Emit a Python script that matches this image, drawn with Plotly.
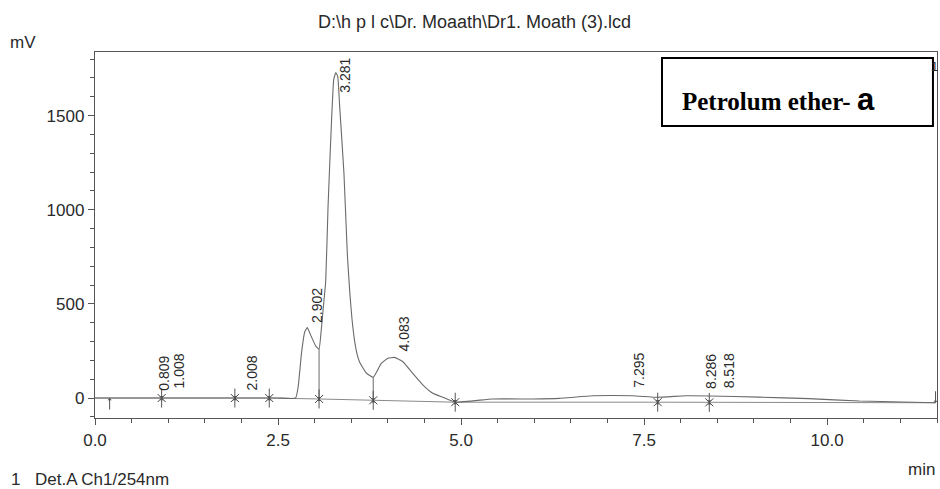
import plotly.graph_objects as go

# ---------------- data ----------------
time_min = [0.00, 0.50, 1.00, 1.50, 2.00, 2.50, 2.74, 2.775, 2.82, 2.865, 2.90, 2.955,
            3.015, 3.06, 3.09, 3.115, 3.151, 3.183, 3.229, 3.26, 3.288, 3.315, 3.342,
            3.40, 3.447, 3.48, 3.51, 3.547, 3.58, 3.615, 3.705, 3.80, 3.91, 4.00, 4.09, 4.205,
            4.34, 4.48, 4.615, 4.75, 4.92, 5.43, 5.98, 6.34, 6.80, 7.34, 7.685, 8.07,
            8.39, 9.07, 9.75, 10.44, 11.48]
signal_mV = [0, 0, 0, 0, 0, 0, 0, 60, 237, 352, 374, 326,
             276, 259, 361, 468, 620, 1017, 1460, 1690, 1729, 1708, 1548,
             1194, 760, 560, 420, 300, 232, 190, 133, 110, 184, 211, 216, 193,
             131, 69, 25, 4, -22, -5, -5, -2, 12, 12, 4, 12,
             11, 5, -3, -16, -25]

# integration baseline
base_t = [0.0, 2.38, 3.06, 3.80, 4.92, 7.685, 8.39, 11.48]
base_v = [0, 0, -5, -12, -22, -22, -23, -25]

# integration marks (X marks on baseline)
mark_t = [0.91, 1.91, 2.38, 3.06, 3.80, 4.92, 7.685, 8.39]
mark_v = [0, 0, 0, -5, -12, -22, -22, -23]

# drop lines (time, baseline, curve)
drop_t = [3.06, 3.80]
drop_lo = [-5, -12]
drop_hi = [259, 110]

# start / end markers
start_t, start_v = 0.20, 0
end_t, end_v = 11.48, -25

# peak retention-time labels
peak_labels = ["0.809", "1.008", "2.008", "2.902", "3.281", "4.083", "7.295", "8.286", "8.518"]
peak_rt = [0.809, 1.008, 2.008, 2.902, 3.281, 4.083, 7.295, 8.286, 8.518]
label_base = [27, 42, 27, 388, 1610, 239, 42, 39, 42]

x_tickvals = [0.0, 2.5, 5.0, 7.5, 10.0]
y_tickvals = [0, 500, 1000, 1500]

FONT = "Liberation Sans, Arial, sans-serif"
INK = "#2a2a2a"
LINE = "#6a6a6a"

fig = go.Figure()

# baseline
fig.add_trace(go.Scatter(x=base_t, y=base_v, mode="lines",
                         line=dict(color="#8a8a8a", width=1), hoverinfo="skip"))
# drop lines
for t, lo, hi in zip(drop_t, drop_lo, drop_hi):
    fig.add_trace(go.Scatter(x=[t, t], y=[lo, hi], mode="lines",
                             line=dict(color=LINE, width=1), hoverinfo="skip"))
# chromatogram
fig.add_trace(go.Scatter(x=time_min, y=signal_mV, mode="lines",
                         line=dict(color=LINE, width=1.1, shape="spline", smoothing=0.35)))
# X marks
fig.add_trace(go.Scatter(x=mark_t, y=mark_v, mode="markers",
                         marker=dict(symbol="x-thin-open", size=8, color="#444",
                                     line=dict(color="#444", width=1)), hoverinfo="skip"))

annotations = []
for t, v in zip(mark_t, mark_v):
    annotations.append(dict(x=t, y=v, xref="x", yref="y", text="", showarrow=True,
                            ax=0, ay=-11, arrowhead=1, arrowsize=0.7, arrowwidth=1,
                            arrowcolor="#555"))
    annotations.append(dict(x=t, y=v, xref="x", yref="y", text="", showarrow=True,
                            ax=0, ay=11, arrowhead=1, arrowsize=0.7, arrowwidth=1,
                            arrowcolor="#555"))
annotations.append(dict(x=start_t, y=start_v, xref="x", yref="y", text="", showarrow=True,
                        ax=0, ay=13, arrowhead=1, arrowsize=0.7, arrowwidth=1,
                        arrowcolor="#555"))
annotations.append(dict(x=end_t, y=end_v, xref="x", yref="y", text="", showarrow=True,
                        ax=0, ay=-13, arrowhead=1, arrowsize=0.7, arrowwidth=1,
                        arrowcolor="#555"))

for lab, t, yb in zip(peak_labels, peak_rt, label_base):
    annotations.append(dict(x=t, y=yb, xref="x", yref="y", text=lab, showarrow=False,
                            textangle=-90, xanchor="center", yanchor="bottom", xshift=10,
                            font=dict(family=FONT, size=14, color=INK)))

# text around the chart
annotations += [
    dict(x=0.4513, y=1.082, xref="paper", yref="paper", text="D:\\h p l c\\Dr. Moaath\\Dr1. Moath (3).lcd",
         showarrow=False, xanchor="center", yanchor="middle",
         font=dict(family=FONT, size=18, color=INK)),
    dict(x=-0.0855, y=1.0246, xref="paper", yref="paper", text="mV", showarrow=False,
         xanchor="center", yanchor="middle", font=dict(family=FONT, size=17, color=INK)),
    dict(x=0.982, y=-0.142, xref="paper", yref="paper", text="min", showarrow=False,
         xanchor="center", yanchor="middle", font=dict(family=FONT, size=17, color=INK)),
    dict(x=-0.094, y=-0.169, xref="paper", yref="paper", text="1", showarrow=False,
         xanchor="center", yanchor="middle", font=dict(family=FONT, size=17, color=INK)),
    dict(x=-0.0736, y=-0.169, xref="paper", yref="paper", text="Det.A Ch1/254nm", showarrow=False,
         xanchor="left", yanchor="middle", font=dict(family=FONT, size=17, color=INK)),
    dict(x=0.9976, y=0.9617, xref="paper", yref="paper", text="1", showarrow=False,
         xanchor="center", yanchor="middle", font=dict(family=FONT, size=13, color=INK)),
    dict(x=0.695, y=0.8689, xref="paper", yref="paper",
         text="<b>Petrolum ether- </b><span style='font-family:Liberation Sans, Arial;font-size:31px'><b>a</b></span>",
         showarrow=False, xanchor="left", yanchor="middle",
         font=dict(family="Liberation Serif, Times New Roman, serif", size=25, color="#000")),
]

fig.add_shape(type="rect", xref="paper", yref="paper", x0=0.6734, x1=0.9952, y0=0.7978, y1=0.9836,
              line=dict(color="#000", width=2), fillcolor="white", layer="above")

axis_common = dict(showgrid=False, zeroline=False, showline=True, linecolor="#555", linewidth=1.3,
                   mirror=True, ticks="outside", tickcolor="#555", tickwidth=1, ticklen=6,
                   tickfont=dict(family=FONT, size=17, color=INK))

fig.update_layout(
    width=940, height=489,
    margin=dict(l=95, r=3, t=52, b=71),
    paper_bgcolor="white", plot_bgcolor="white",
    showlegend=False,
    annotations=annotations,
    xaxis=dict(range=[0, 11.5], tickvals=x_tickvals, tickformat=".1f",
               minor=dict(dtick=0.5, ticklen=4, ticks="outside", tickcolor="#555"),
               **axis_common),
    yaxis=dict(range=[-106, 1838], tickvals=y_tickvals,
               minor=dict(dtick=100, ticklen=4, ticks="outside", tickcolor="#555"),
               **axis_common),
)

fig.write_html("out.html")
